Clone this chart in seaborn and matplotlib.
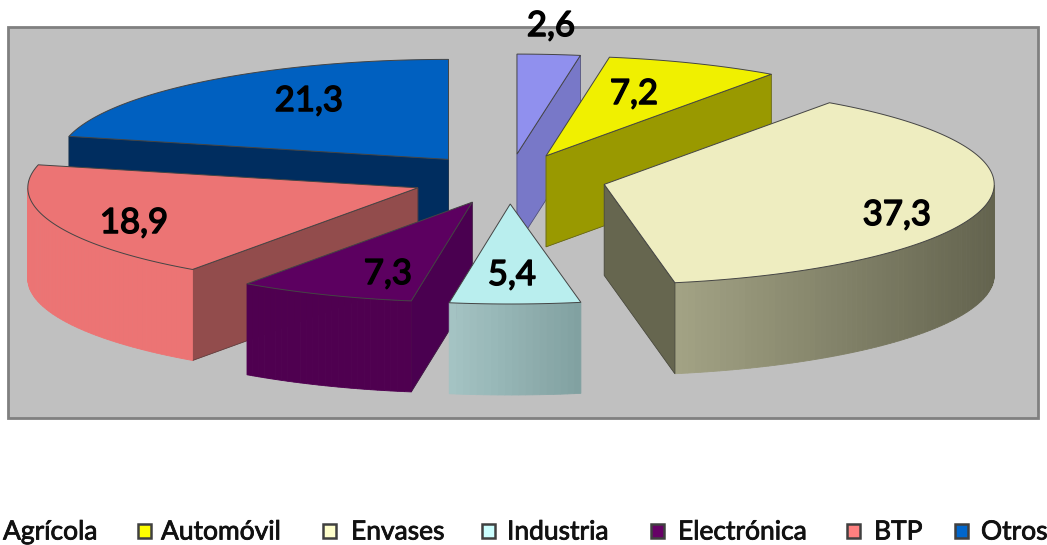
import numpy as np
import matplotlib
matplotlib.use("Agg")
import matplotlib.pyplot as plt
import matplotlib.patheffects as pe
from matplotlib.patches import Polygon, Rectangle
from matplotlib.colors import to_rgb
import seaborn as sns

categories = ["Agrícola", "Automóvil", "Envases", "Industria", "Electrónica", "BTP", "Otros"]
values = [2.6, 7.2, 37.3, 5.4, 7.3, 18.9, 21.3]
top_colors = ["#9090EE", "#F0F000", "#EEEDC0", "#B9EEEE", "#5C0060", "#EC7474", "#0060C0"]
radial_colors = ["#7878C8", "#999900", "#66664F", "#A0BDBD", "#4A0050", "#924C4C", "#002D5F"]
outer_left = ["#7878C8", "#999900", "#A3A385", "#A5C4C4", "#4F0050", "#EC7474", "#002D5F"]
outer_right = ["#7878C8", "#999900", "#63634E", "#80A0A0", "#4F0050", "#EC7474", "#002D5F"]
legend_swatch = ["#FFFFFF", "#FFFF00", "#FFFFCC", "#CCFFFF", "#660066", "#FF8080", "#0066CC"]
legend_marker_x = [None, 138, 323, 482, 651, 847, 955]
legend_text_x = [3, 161, 351, 507, 678, 874, 981]
label_pos = [(551, 26), (634, 94), (897, 215), (512, 275), (388, 274), (134, 223), (309, 101)]
draw_order = [0, 1, 6, 5, 2, 4, 3]

CX, CY, RX, RY, DEPTH, EXPLODE = 509, 179, 390, 100, 91, 0.25

sns.set_theme(style="white")
plt.rcParams["font.family"] = ["Lato", "DejaVu Sans"]

fig = plt.figure(figsize=(10.47, 5.45), dpi=100, facecolor="white")
ax = fig.add_axes([0, 0, 1, 1])
ax.set_xlim(0, 1047)
ax.set_ylim(545, 0)
ax.axis("off")

ax.add_patch(Rectangle((8, 27), 1030, 391, facecolor="#C0C0C0", edgecolor="#808080", lw=2, zorder=0))


def mix(c1, c2, t):
    a, b = np.array(to_rgb(c1)), np.array(to_rgb(c2))
    return tuple(a + (b - a) * t)


fractions = np.array(values) / sum(values)
edges = np.concatenate([[0], np.cumsum(fractions)]) * 2 * np.pi

z = 1
for i in draw_order:
    a0, a1 = edges[i], edges[i + 1]
    mid = (a0 + a1) / 2
    ax0 = CX + EXPLODE * RX * np.sin(mid)
    ay0 = CY - EXPLODE * RY * np.cos(mid)
    th = np.linspace(a0, a1, max(int((a1 - a0) * 60), 4))
    rim = np.column_stack([ax0 + RX * np.sin(th), ay0 - RY * np.cos(th)])
    poly = np.vstack([[ax0, ay0], rim])
    centre = poly.mean(axis=0)
    xmin, xmax = rim[:, 0].min(), rim[:, 0].max()
    n = len(poly)
    for k in range(n):
        p, q = poly[k], poly[(k + 1) % n]
        d = q - p
        nrm = np.array([d[1], -d[0]])
        if np.dot(nrm, (p + q) / 2 - centre) < 0:
            nrm = -nrm
        if nrm[1] <= 0:
            continue
        radial = k == 0 or k == n - 1
        if radial:
            col = radial_colors[i]
        else:
            t = np.clip(((p[0] + q[0]) / 2 - xmin) / max(xmax - xmin, 1), 0, 1)
            col = mix(outer_left[i], outer_right[i], t)
        quad = [p, q, q + [0, DEPTH], p + [0, DEPTH]]
        ax.add_patch(Polygon(quad, closed=True, facecolor=col, edgecolor=col, lw=0.6, zorder=z))
        z += 1
        if radial:
            ax.plot([p[0], q[0], q[0], p[0], p[0]],
                    [p[1], q[1], q[1] + DEPTH, p[1] + DEPTH, p[1]],
                    color="#333333", lw=0.5, alpha=0.6, zorder=z)
    ax.add_patch(Polygon(poly, closed=True, facecolor=top_colors[i], edgecolor="#444444", lw=0.7, zorder=z))
    z += 1

for v, (x, y) in zip(values, label_pos):
    t = ax.text(x, y, f"{v:.1f}".replace(".", ","), ha="center", va="center",
                fontsize=25, color="black", zorder=500)
    t.set_path_effects([pe.withStroke(linewidth=1.1, foreground="black")])

for name, sw, mx, tx in zip(categories, legend_swatch, legend_marker_x, legend_text_x):
    if mx is not None:
        ax.add_patch(Rectangle((mx, 524), 13, 14, facecolor=sw, edgecolor="#404040", lw=1.8, zorder=500))
    t = ax.text(tx, 532, name, ha="left", va="center", fontsize=19, color="#111111", zorder=500)
    t.set_path_effects([pe.withStroke(linewidth=0.6, foreground="#111111")])

fig.savefig("out.png", dpi=100, facecolor="white")
